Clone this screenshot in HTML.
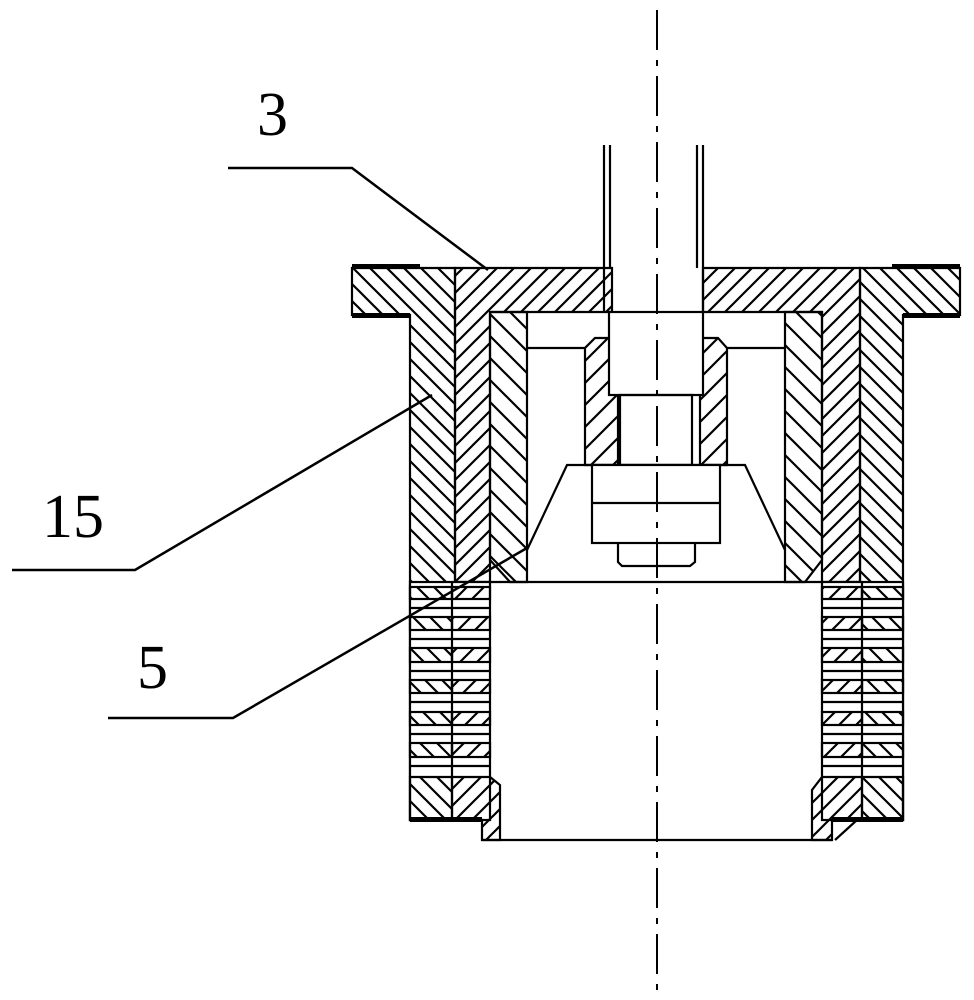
<!DOCTYPE html>
<html><head><meta charset="utf-8"><style>html,body{margin:0;padding:0;background:#fff}svg{display:block}</style></head>
<body>
<svg width="974" height="1000" viewBox="0 0 974 1000" xmlns="http://www.w3.org/2000/svg">
<defs>
<pattern id="f" patternUnits="userSpaceOnUse" width="17" height="17"><path d="M-2,19 L19,-2 M-2,2 L2,-2 M15,19 L19,15" stroke="#000" stroke-width="2.2"/></pattern>
<pattern id="b" patternUnits="userSpaceOnUse" width="17" height="17"><path d="M-2,-2 L19,19 M15,-2 L19,2 M-2,15 L2,19" stroke="#000" stroke-width="2.2"/></pattern>
<pattern id="f2" patternUnits="userSpaceOnUse" width="22" height="22"><path d="M-2,24 L24,-2 M-2,2 L2,-2 M20,24 L24,20" stroke="#000" stroke-width="2.2"/></pattern>
<pattern id="b2" patternUnits="userSpaceOnUse" width="22" height="22"><path d="M-2,-2 L24,24 M20,-2 L24,2 M-2,20 L2,24" stroke="#000" stroke-width="2.2"/></pattern>
</defs>
<g stroke="#000" stroke-width="2.2" fill="none">
<path d="M352,268 H455 V820 H410 V315 H352 Z" fill="url(#b)"/>
<path d="M455,268 H612 V312 H490 V582 H455 Z" fill="url(#f)"/>
<path d="M703,268 H860 V582 H822 V312 H703 Z" fill="url(#f)"/>
<path d="M860,268 H960 V315 H903 V820 H860 Z" fill="url(#b)"/>
<path d="M490,312 H527 V582 H510 L490,560 Z" fill="url(#b2)"/>
<path d="M785,312 H822 V560 L805,582 H785 Z" fill="url(#b2)"/>
<path d="M595,338 H618 V465 H585 V348 Z" fill="url(#f2)"/>
<path d="M700,338 H718 L727,348 V465 H700 Z" fill="url(#f2)"/>
<line x1="527" y1="348" x2="585" y2="348"/><line x1="727" y1="348" x2="785" y2="348"/>
<line x1="604" y1="145" x2="604" y2="312"/><line x1="610" y1="145" x2="610" y2="268"/>
<line x1="703" y1="145" x2="703" y2="312"/><line x1="697" y1="145" x2="697" y2="268"/>
<rect x="609" y="312" width="94" height="83" fill="#fff"/>
<rect x="620" y="395" width="72" height="70"/>
<path d="M527,550 L567,465 H745 L785,550"/>
<rect x="592" y="465" width="128" height="78" fill="#fff"/>
<line x1="592" y1="503" x2="720" y2="503"/>
<path d="M618,543 V562 L622,566 H690 L695,562 V543"/>
<line x1="490" y1="582" x2="822" y2="582"/>
<rect x="410" y="582" width="80" height="238" fill="#fff"/>
<rect x="822" y="582" width="81" height="238" fill="#fff"/>
<g fill="url(#b)">
<rect x="410" y="587" width="42" height="12"/><rect x="410" y="617" width="42" height="13"/><rect x="410" y="648" width="42" height="14"/><rect x="410" y="680" width="42" height="13"/><rect x="410" y="712" width="42" height="13"/><rect x="410" y="743" width="42" height="14"/>
<rect x="862" y="587" width="41" height="12"/><rect x="862" y="617" width="41" height="13"/><rect x="862" y="648" width="41" height="14"/><rect x="862" y="680" width="41" height="13"/><rect x="862" y="712" width="41" height="13"/><rect x="862" y="743" width="41" height="14"/>
</g>
<g fill="url(#f)">
<rect x="452" y="587" width="38" height="12"/><rect x="452" y="617" width="38" height="13"/><rect x="452" y="648" width="38" height="14"/><rect x="452" y="680" width="38" height="13"/><rect x="452" y="712" width="38" height="13"/><rect x="452" y="743" width="38" height="14"/>
<rect x="822" y="587" width="40" height="12"/><rect x="822" y="617" width="40" height="13"/><rect x="822" y="648" width="40" height="14"/><rect x="822" y="680" width="40" height="13"/><rect x="822" y="712" width="40" height="13"/><rect x="822" y="743" width="40" height="14"/>
</g>
<g>
<line x1="410" y1="608" x2="490" y2="608"/><line x1="410" y1="639" x2="490" y2="639"/><line x1="410" y1="671" x2="490" y2="671"/><line x1="410" y1="702" x2="490" y2="702"/><line x1="410" y1="734" x2="490" y2="734"/><line x1="410" y1="766" x2="490" y2="766"/>
<line x1="822" y1="608" x2="903" y2="608"/><line x1="822" y1="639" x2="903" y2="639"/><line x1="822" y1="671" x2="903" y2="671"/><line x1="822" y1="702" x2="903" y2="702"/><line x1="822" y1="734" x2="903" y2="734"/><line x1="822" y1="766" x2="903" y2="766"/>
<line x1="452" y1="582" x2="452" y2="778"/><line x1="862" y1="582" x2="862" y2="778"/>
</g>
<path d="M410,777 H452 V820 H410 Z" fill="url(#b)"/>
<path d="M452,777 H490 L500,785 V840 H482 V820 H452 Z" fill="url(#f)"/>
<path d="M822,777 H862 V820 H832 V840 H812 V790 Z" fill="url(#f)"/>
<path d="M862,777 H903 V820 H862 Z" fill="url(#b)"/>
<line x1="482" y1="840" x2="832" y2="840"/>
<line x1="835" y1="840" x2="857" y2="820"/>
</g>
<g fill="#000">
<rect x="352" y="264" width="68" height="5"/><rect x="352" y="313" width="58" height="5"/>
<rect x="892" y="264" width="68" height="5"/><rect x="903" y="313" width="57" height="5"/>
<rect x="410" y="817" width="72" height="5"/><rect x="832" y="817" width="71" height="5"/>
</g>
<line x1="657" y1="10" x2="657" y2="990" stroke="#000" stroke-width="2" stroke-dasharray="40,10,6,10"/>
<g stroke="#000" stroke-width="2.5" fill="none">
<path d="M228,168 H352 L488,270"/>
<path d="M12,570 H135 L432,395"/>
<path d="M108,718 H233 L527,548"/>
</g>
<g font-family="Liberation Serif, serif" font-size="62" fill="#000">
<text x="257" y="135">3</text>
<text x="42" y="537">15</text>
<text x="137" y="688">5</text>
</g>
</svg>
</body></html>
